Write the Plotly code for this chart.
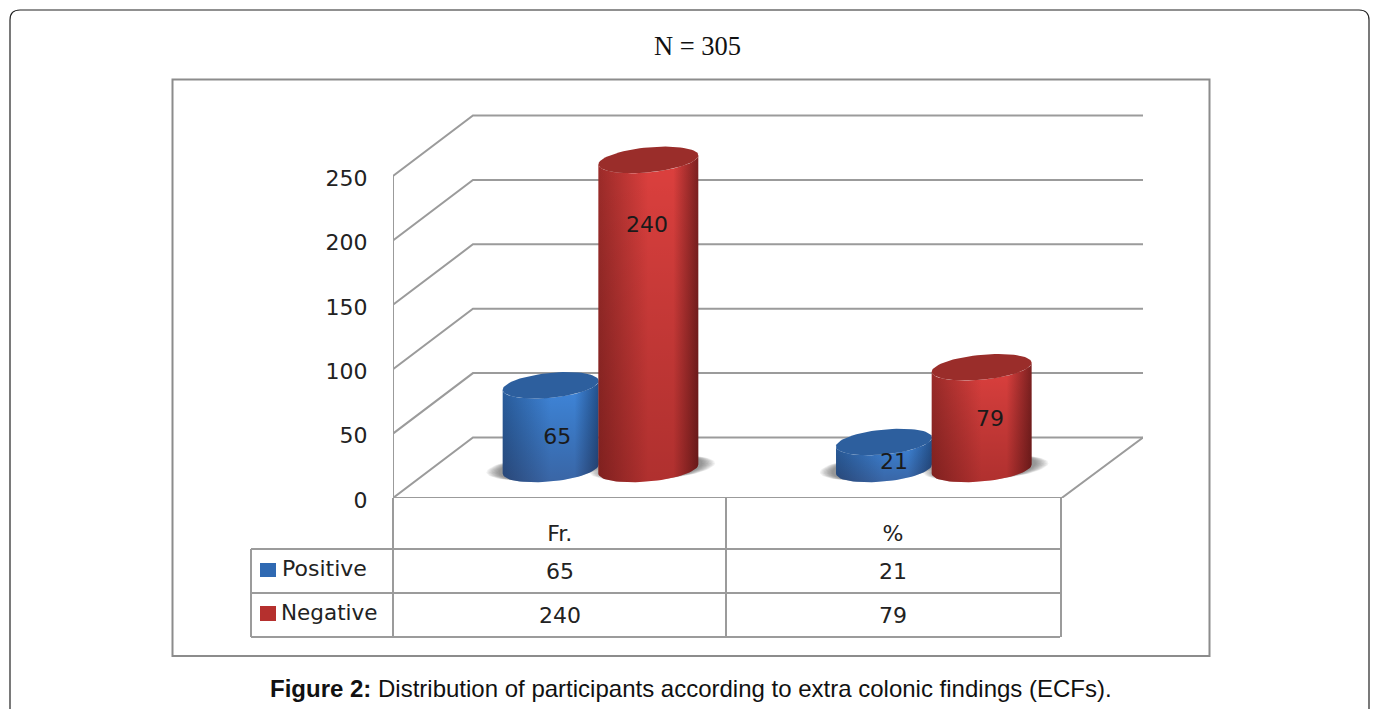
import numpy as np
import plotly.graph_objects as go

# ---- data ----
categories = ["Fr.", "%"]
positive = [65, 21]
negative = [240, 79]
series_names = ["Positive", "Negative"]
y_ticks = [0, 50, 100, 150, 200, 250]
title_text = "N = 305"
caption_text = "<b>Figure 2:</b> Distribution of participants according to extra colonic findings (ECFs)."

# ---- layout constants (pixels on the 1376x709 page) ----
W, H = 1376, 709
PLOT_L, PLOT_R, PLOT_T, PLOT_B = 393, 1143, 100, 498
PX_PER_VALUE = 1.288
PX_PER_CAT = 333.5
GREY = "#9b9b9b"
FONT = "DejaVu Sans"
DEPTH_X = 80 / PX_PER_CAT
DEPTH_Y = 60.5 / PX_PER_VALUE
BASE_Y = 22.5
HALF_W = [48 / PX_PER_CAT, 50 / PX_PER_CAT]
ELL_B = 12.5 / PX_PER_VALUE
ELL_K = 4.5 / PX_PER_VALUE
SERIES_OFFSET = [-0.027, 0.266]
X0 = -0.5
X_RIGHT_FRONT = X0 + (1062 - 393) / PX_PER_CAT

def ypx(v):
    return (PLOT_B - v) / (PLOT_B - PLOT_T)

def xpx(v):
    return (v - PLOT_L) / (PLOT_R - PLOT_L)

fig = go.Figure()

def add_line(xs, ys, width=2, color=GREY):
    fig.add_trace(go.Scatter(x=xs, y=ys, mode="lines", line=dict(color=color, width=width),
                             hoverinfo="skip", showlegend=False, cliponaxis=False))

# walls and floor
for v in y_ticks:
    add_line([X0, X0 + DEPTH_X, 1.75], [v, v + DEPTH_Y, v + DEPTH_Y])
add_line([X0, X_RIGHT_FRONT, 1.75], [0, 0, DEPTH_Y])
add_line([X0, X0], [0, y_ticks[-1]])

T = np.linspace(0, 2 * np.pi, 73)
LOW = np.linspace(np.pi, 2 * np.pi, 37)

def ellipse(cx, cy, hw, sx=1.0, sy=1.0, t=T):
    return (cx + hw * sx * np.cos(t),
            cy + ELL_B * sy * np.sin(t) + ELL_K * np.cos(t))

def add_fill(xs, ys, **kw):
    fig.add_trace(go.Scatter(x=xs, y=ys, mode="lines", line=dict(width=0), fill="toself",
                             hoverinfo="skip", showlegend=False, cliponaxis=False, **kw))

PALETTE = [
    dict(edge_l="#2a5e9f", mid="#4087dc", edge_r="#24528e", top="#2d5f9e"),
    dict(edge_l="#9c2b29", mid="#dd403e", edge_r="#7c2020", top="#9a2d2a"),
]

def cylinder(cx, value, hw, pal):
    y0 = BASE_Y
    y1 = BASE_Y + value
    tx, ty = ellipse(cx, y1, hw, t=LOW)
    bx, by = ellipse(cx, y0, hw, t=LOW)
    xs = np.concatenate([tx, bx[::-1], tx[:1]])
    ys = np.concatenate([ty, by[::-1], ty[:1]])
    add_fill(xs, ys, fillgradient=dict(
        type="horizontal",
        colorscale=[[0, pal["edge_l"]], [0.5, pal["mid"]], [0.75, pal["mid"]], [1, pal["edge_r"]]]))
    add_fill(xs, ys, fillgradient=dict(
        type="vertical",
        colorscale=[[0, "rgba(40,0,0,0.25)"], [1, "rgba(0,0,0,0)"]]))
    ex, ey = ellipse(cx, y1, hw)
    add_fill(ex, ey, fillcolor=pal["top"])

# soft shadows on the floor
for c in range(len(categories)):
    for s, vals in enumerate([positive, negative]):
        cx = c + SERIES_OFFSET[s]
        for k in range(10):
            sx, sy = ellipse(cx + (0.012 if s else -0.012), BASE_Y + 1, HALF_W[s],
                             sx=1.0 + 0.028 * k, sy=0.98)
            add_fill(sx, sy, fillcolor="rgba(70,70,70,0.075)")

# cylinders, drawn back to front in each group
for c in range(len(categories)):
    for s, vals in enumerate([positive, negative]):
        cylinder(c + SERIES_OFFSET[s], vals[c], HALF_W[s], PALETTE[s])

# value labels
label_px = [[(557, 438), (894, 463)], [(647, 226), (990, 420)]]
for s, vals in enumerate([positive, negative]):
    fig.add_trace(go.Scatter(
        x=[(p[0] - 559.5) / PX_PER_CAT for p in label_px[s]],
        y=[(PLOT_B - p[1]) / PX_PER_VALUE for p in label_px[s]],
        mode="text", text=[str(v) for v in vals],
        textfont=dict(family=FONT, size=22, color="#1a1a1a"),
        textposition="middle center", hoverinfo="skip", showlegend=False, cliponaxis=False))

# ---- frames and data table ----
def seg(x0, y0, x1, y1, color=GREY, width=2, layer="above"):
    return dict(type="line", xref="paper", yref="paper", x0=xpx(x0), x1=xpx(x1),
                y0=ypx(y0), y1=ypx(y1), line=dict(color=color, width=width), layer=layer)

r = 10
outer = (f"M {xpx(10)} {ypx(730)} L {xpx(10)} {ypx(10 + r)} Q {xpx(10)} {ypx(10)} {xpx(10 + r)} {ypx(10)} "
         f"L {xpx(1369 - r)} {ypx(10)} Q {xpx(1369)} {ypx(10)} {xpx(1369)} {ypx(10 + r)} L {xpx(1369)} {ypx(730)}")
shapes = [
    dict(type="path", xref="paper", yref="paper", path=outer, line=dict(color="#222222", width=1.2), layer="below"),
    dict(type="rect", xref="paper", yref="paper", x0=xpx(172.5), x1=xpx(1209.5), y0=ypx(79.5), y1=ypx(656),
         line=dict(color="#8c8c8c", width=2), layer="below"),
    seg(393, 498, 393, 637),
    seg(726, 498, 726, 637),
    seg(1061, 498, 1061, 637),
    seg(251, 549, 1060, 549),
    seg(251, 593, 1060, 593),
    seg(251, 637, 1060, 637),
    seg(251, 549, 251, 637),
    dict(type="rect", xref="paper", yref="paper", x0=xpx(260), x1=xpx(276), y0=ypx(563), y1=ypx(577),
         line=dict(width=0), fillcolor="#2f69b2"),
    dict(type="rect", xref="paper", yref="paper", x0=xpx(260), x1=xpx(276), y0=ypx(606), y1=ypx(621),
         line=dict(width=0), fillcolor="#b5302e"),
]

TXT = "#222222"
annots = [
    dict(text=title_text, x=xpx(697.5), y=ypx(46), font=dict(family="Liberation Serif", size=26.5, color="#111111")),
    dict(text=caption_text, x=xpx(691), y=ypx(688), font=dict(family="Liberation Sans", size=24, color="#111111")),
    dict(text=series_names[0], x=xpx(280), y=ypx(568), xanchor="left", font=dict(family=FONT, size=22, color=TXT)),
    dict(text=series_names[1], x=xpx(279), y=ypx(612), xanchor="left", font=dict(family=FONT, size=21.5, color=TXT)),
]
col_px = [559.5, 893]
for i, x in enumerate(col_px):
    annots.append(dict(text=str(positive[i]), x=xpx(x), y=ypx(571), font=dict(family=FONT, size=22, color=TXT)))
    annots.append(dict(text=str(negative[i]), x=xpx(x), y=ypx(615), font=dict(family=FONT, size=22, color=TXT)))
for a in annots:
    a.update(xref="paper", yref="paper", showarrow=False)
    a.setdefault("xanchor", "center")
    a.setdefault("yanchor", "middle")

fig.update_layout(
    width=W, height=H, autosize=False,
    margin=dict(l=PLOT_L, r=W - PLOT_R, t=PLOT_T, b=H - PLOT_B, pad=0),
    paper_bgcolor="white", plot_bgcolor="rgba(0,0,0,0)",
    showlegend=False, shapes=shapes, annotations=annots,
    xaxis=dict(range=[X0, 1.75], tickmode="array", tickvals=list(range(len(categories))), ticktext=categories,
               showgrid=False, zeroline=False, showline=False, ticks="outside", ticklen=16,
               tickcolor="rgba(0,0,0,0)", tickfont=dict(family=FONT, size=22, color=TXT)),
    yaxis=dict(range=[0, (PLOT_B - PLOT_T) / PX_PER_VALUE], tickmode="array", tickvals=y_ticks,
               ticktext=[str(v) for v in y_ticks], ticklabelshift=2,
               showgrid=False, zeroline=False, showline=False, ticks="outside", ticklen=20,
               tickcolor="rgba(0,0,0,0)", tickfont=dict(family=FONT, size=22, color=TXT)),
)

fig.write_html("out.html", config=dict(displayModeBar=False),
               post_script="document.body.style.margin='0';document.body.style.overflow='hidden';")
